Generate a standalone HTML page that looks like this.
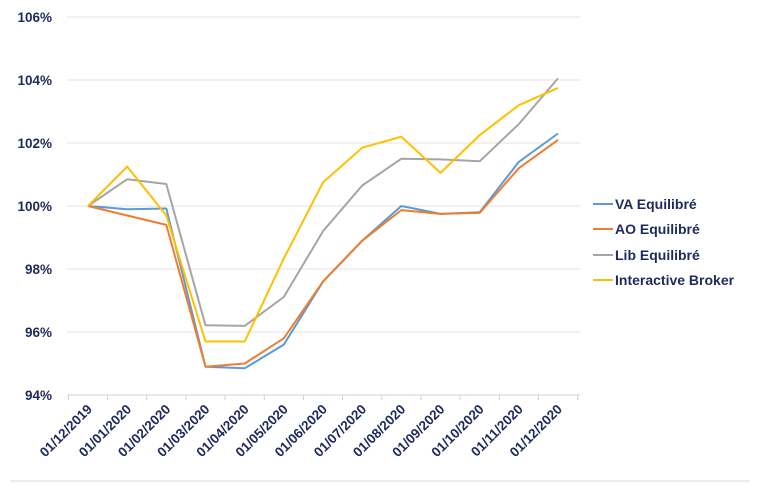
<!DOCTYPE html>
<html><head><meta charset="utf-8"><style>
body{margin:0;background:#fff;}
svg{display:block;font-family:"Liberation Sans",sans-serif;}
</style></head><body>
<svg width="760" height="485" viewBox="0 0 760 485">
<g stroke="#e3e3e3" stroke-width="1">
<line x1="67" y1="17" x2="580" y2="17"/>
<line x1="67" y1="80" x2="580" y2="80"/>
<line x1="67" y1="143" x2="580" y2="143"/>
<line x1="67" y1="206" x2="580" y2="206"/>
<line x1="67" y1="269" x2="580" y2="269"/>
<line x1="67" y1="332" x2="580" y2="332"/>
</g>
<line x1="67" y1="395" x2="580" y2="395" stroke="#d0d0d0"/>
<g stroke="#d0d0d0"><line x1="107.6" y1="395" x2="107.6" y2="400"/><line x1="146.8" y1="395" x2="146.8" y2="400"/><line x1="185.9" y1="395" x2="185.9" y2="400"/><line x1="225.1" y1="395" x2="225.1" y2="400"/><line x1="264.3" y1="395" x2="264.3" y2="400"/><line x1="303.4" y1="395" x2="303.4" y2="400"/><line x1="342.6" y1="395" x2="342.6" y2="400"/><line x1="381.8" y1="395" x2="381.8" y2="400"/><line x1="420.9" y1="395" x2="420.9" y2="400"/><line x1="460.1" y1="395" x2="460.1" y2="400"/><line x1="499.3" y1="395" x2="499.3" y2="400"/><line x1="538.4" y1="395" x2="538.4" y2="400"/><line x1="68.4" y1="395" x2="68.4" y2="400"/><line x1="577.6" y1="395" x2="577.6" y2="400"/></g>
<g fill="#1f2a5c" font-weight="bold" font-size="13.5" text-anchor="end">
<text x="52" y="22">106%</text><text x="52" y="85">104%</text><text x="52" y="148">102%</text><text x="52" y="211">100%</text><text x="52" y="274">98%</text><text x="52" y="337">96%</text><text x="52" y="400">94%</text>
</g>
<g fill="#1f2a5c" font-weight="bold" font-size="13.5" text-anchor="end">
<text transform="translate(93,410) rotate(-45)">01/12/2019</text>
<text transform="translate(132.2,410) rotate(-45)">01/01/2020</text>
<text transform="translate(171.3,410) rotate(-45)">01/02/2020</text>
<text transform="translate(210.5,410) rotate(-45)">01/03/2020</text>
<text transform="translate(249.7,410) rotate(-45)">01/04/2020</text>
<text transform="translate(288.8,410) rotate(-45)">01/05/2020</text>
<text transform="translate(328,410) rotate(-45)">01/06/2020</text>
<text transform="translate(367.2,410) rotate(-45)">01/07/2020</text>
<text transform="translate(406.3,410) rotate(-45)">01/08/2020</text>
<text transform="translate(445.5,410) rotate(-45)">01/09/2020</text>
<text transform="translate(484.7,410) rotate(-45)">01/10/2020</text>
<text transform="translate(523.8,410) rotate(-45)">01/11/2020</text>
<text transform="translate(563,410) rotate(-45)">01/12/2020</text>
</g>
<g fill="none" stroke-width="2" stroke-linejoin="round">
<polyline stroke="#a5a5a5" points="88,206 127.2,179.2 166.3,184 205.5,325.3 244.7,325.9 283.8,297 323,231.2 362.2,185.5 401.3,158.8 440.5,159.4 479.7,161.3 518.8,124.1 558,78.4"/>
<polyline stroke="#5b9bd5" points="88,206 127.2,209.2 166.3,208.5 205.5,366.7 244.7,368.3 283.8,344.6 323,281.6 362.2,240.7 401.3,206 440.5,213.9 479.7,212.3 518.8,161.9 558,133.5"/>
<polyline stroke="#ed7d31" points="88,206 127.2,215.5 166.3,224.9 205.5,366.7 244.7,363.5 283.8,338.3 323,281.6 362.2,240.7 401.3,210.1 440.5,213.9 479.7,212.9 518.8,168.2 558,139.9"/>
<polyline stroke="#ffc000" points="88,206 127.2,166.6 166.3,215.5 205.5,341.5 244.7,341.5 283.8,258.5 323,182.4 362.2,147.7 401.3,136.7 440.5,172.9 479.7,135.1 518.8,105.2 558,87.9"/>
</g>
<g stroke-width="2">
<line x1="593" y1="204" x2="613" y2="204" stroke="#5b9bd5"/>
<line x1="593" y1="229" x2="613" y2="229" stroke="#ed7d31"/>
<line x1="593" y1="255" x2="613" y2="255" stroke="#a5a5a5"/>
<line x1="593" y1="280" x2="613" y2="280" stroke="#ffc000"/>
</g>
<g fill="#1f2a5c" font-weight="bold" font-size="14">
<text x="615" y="209">VA Equilibré</text>
<text x="615" y="234">AO Equilibré</text>
<text x="615" y="260">Lib Equilibré</text>
<text x="615" y="285">Interactive Broker</text>
</g>
<line x1="10" y1="481" x2="750" y2="481" stroke="#d8d8d8"/>
</svg>
</body></html>
